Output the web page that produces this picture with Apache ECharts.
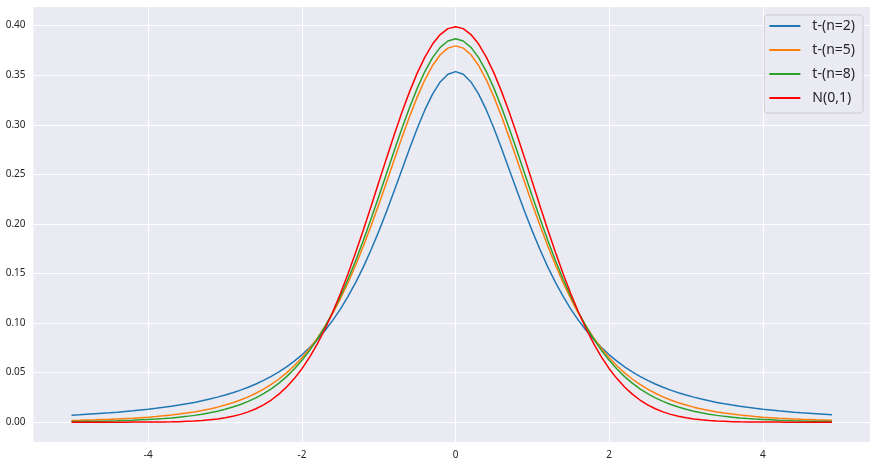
<!DOCTYPE html>
<html>
<head>
<meta charset="utf-8">
<script src="https://cdn.jsdelivr.net/npm/echarts@6/dist/echarts.min.js"></script>
<style>
  html, body { margin: 0; padding: 0; background: #fff; }
  #chart { width: 877px; height: 465px; }
</style>
</head>
<body>
<div id="chart"></div>
<script>
// x grid, -5 .. 4.9 step 0.1
const xs = [
  -5.0, -4.9, -4.8, -4.7, -4.6, -4.5, -4.4, -4.3, -4.2, -4.1,
  -4.0, -3.9, -3.8, -3.7, -3.6, -3.5, -3.4, -3.3, -3.2, -3.1,
  -3.0, -2.9, -2.8, -2.7, -2.6, -2.5, -2.4, -2.3, -2.2, -2.1,
  -2.0, -1.9, -1.8, -1.7, -1.6, -1.5, -1.4, -1.3, -1.2, -1.1,
  -1.0, -0.9, -0.8, -0.7, -0.6, -0.5, -0.4, -0.3, -0.2, -0.1,
  0.0, 0.1, 0.2, 0.3, 0.4, 0.5, 0.6, 0.7, 0.8, 0.9,
  1.0, 1.1, 1.2, 1.3, 1.4, 1.5, 1.6, 1.7, 1.8, 1.9,
  2.0, 2.1, 2.2, 2.3, 2.4, 2.5, 2.6, 2.7, 2.8, 2.9,
  3.0, 3.1, 3.2, 3.3, 3.4, 3.5, 3.6, 3.7, 3.8, 3.9,
  4.0, 4.1, 4.2, 4.3, 4.4, 4.5, 4.6, 4.7, 4.8, 4.9
];

const t2 = [
  0.0071, 0.0075, 0.0080, 0.0085, 0.0090, 0.0095, 0.0101, 0.0108, 0.0115, 0.0123,
  0.0131, 0.0140, 0.0150, 0.0161, 0.0173, 0.0186, 0.0200, 0.0216, 0.0234, 0.0253,
  0.0274, 0.0298, 0.0324, 0.0353, 0.0386, 0.0422, 0.0463, 0.0508, 0.0559, 0.0616,
  0.0680, 0.0753, 0.0834, 0.0925, 0.1027, 0.1141, 0.1269, 0.1411, 0.1567, 0.1739,
  0.1925, 0.2123, 0.2331, 0.2545, 0.2758, 0.2963, 0.3150, 0.3310, 0.3432, 0.3509,
  0.3536, 0.3509, 0.3432, 0.3310, 0.3150, 0.2963, 0.2758, 0.2545, 0.2331, 0.2123,
  0.1925, 0.1739, 0.1567, 0.1411, 0.1269, 0.1141, 0.1027, 0.0925, 0.0834, 0.0753,
  0.0680, 0.0616, 0.0559, 0.0508, 0.0463, 0.0422, 0.0386, 0.0353, 0.0324, 0.0298,
  0.0274, 0.0253, 0.0234, 0.0216, 0.0200, 0.0186, 0.0173, 0.0161, 0.0150, 0.0140,
  0.0131, 0.0123, 0.0115, 0.0108, 0.0101, 0.0095, 0.0090, 0.0085, 0.0080, 0.0075
];

const t5 = [
  0.0018, 0.0019, 0.0022, 0.0024, 0.0027, 0.0029, 0.0033, 0.0037, 0.0041, 0.0046,
  0.0051, 0.0057, 0.0065, 0.0073, 0.0082, 0.0092, 0.0104, 0.0118, 0.0134, 0.0152,
  0.0173, 0.0197, 0.0224, 0.0256, 0.0292, 0.0333, 0.0381, 0.0436, 0.0498, 0.0569,
  0.0651, 0.0743, 0.0848, 0.0966, 0.1098, 0.1245, 0.1407, 0.1585, 0.1777, 0.1981,
  0.2197, 0.2419, 0.2645, 0.2868, 0.3081, 0.3279, 0.3454, 0.3598, 0.3706, 0.3773,
  0.3796, 0.3773, 0.3706, 0.3598, 0.3454, 0.3279, 0.3081, 0.2868, 0.2645, 0.2419,
  0.2197, 0.1981, 0.1777, 0.1585, 0.1407, 0.1245, 0.1098, 0.0966, 0.0848, 0.0743,
  0.0651, 0.0569, 0.0498, 0.0436, 0.0381, 0.0333, 0.0292, 0.0256, 0.0224, 0.0197,
  0.0173, 0.0152, 0.0134, 0.0118, 0.0104, 0.0092, 0.0082, 0.0073, 0.0065, 0.0057,
  0.0051, 0.0046, 0.0041, 0.0037, 0.0033, 0.0029, 0.0027, 0.0024, 0.0022, 0.0019
];

const t8 = [
  0.0007, 0.0008, 0.0009, 0.0010, 0.0011, 0.0013, 0.0015, 0.0018, 0.0020, 0.0024,
  0.0028, 0.0032, 0.0037, 0.0043, 0.0051, 0.0059, 0.0069, 0.0081, 0.0095, 0.0111,
  0.0130, 0.0153, 0.0179, 0.0210, 0.0246, 0.0288, 0.0337, 0.0394, 0.0460, 0.0536,
  0.0624, 0.0724, 0.0837, 0.0965, 0.1109, 0.1268, 0.1442, 0.1632, 0.1836, 0.2052,
  0.2276, 0.2505, 0.2735, 0.2959, 0.3172, 0.3367, 0.3537, 0.3677, 0.3781, 0.3845,
  0.3867, 0.3845, 0.3781, 0.3677, 0.3537, 0.3367, 0.3172, 0.2959, 0.2735, 0.2505,
  0.2276, 0.2052, 0.1836, 0.1632, 0.1442, 0.1268, 0.1109, 0.0965, 0.0837, 0.0724,
  0.0624, 0.0536, 0.0460, 0.0394, 0.0337, 0.0288, 0.0246, 0.0210, 0.0179, 0.0153,
  0.0130, 0.0111, 0.0095, 0.0081, 0.0069, 0.0059, 0.0051, 0.0043, 0.0037, 0.0032,
  0.0028, 0.0024, 0.0020, 0.0018, 0.0015, 0.0013, 0.0011, 0.0010, 0.0009, 0.0008
];

const norm = [
  0.0000, 0.0000, 0.0000, 0.0000, 0.0000, 0.0000, 0.0000, 0.0000, 0.0001, 0.0001,
  0.0001, 0.0002, 0.0003, 0.0004, 0.0006, 0.0009, 0.0012, 0.0017, 0.0024, 0.0033,
  0.0044, 0.0060, 0.0079, 0.0104, 0.0136, 0.0175, 0.0224, 0.0283, 0.0355, 0.0440,
  0.0540, 0.0656, 0.0790, 0.0940, 0.1109, 0.1295, 0.1497, 0.1714, 0.1942, 0.2179,
  0.2420, 0.2661, 0.2897, 0.3123, 0.3332, 0.3521, 0.3683, 0.3814, 0.3910, 0.3970,
  0.3989, 0.3970, 0.3910, 0.3814, 0.3683, 0.3521, 0.3332, 0.3123, 0.2897, 0.2661,
  0.2420, 0.2179, 0.1942, 0.1714, 0.1497, 0.1295, 0.1109, 0.0940, 0.0790, 0.0656,
  0.0540, 0.0440, 0.0355, 0.0283, 0.0224, 0.0175, 0.0136, 0.0104, 0.0079, 0.0060,
  0.0044, 0.0033, 0.0024, 0.0017, 0.0012, 0.0009, 0.0006, 0.0004, 0.0003, 0.0002,
  0.0001, 0.0001, 0.0001, 0.0000, 0.0000, 0.0000, 0.0000, 0.0000, 0.0000, 0.0000
];

const names = ['t-(n=2)', 't-(n=5)', 't-(n=8)', 'N(0,1)'];
const colors = ['#1f77b4', '#ff7f0e', '#2ca02c', '#ff0000'];
const xTicks = [-4, -2, 0, 2, 4];
const yTicks = [0, 0.05, 0.10, 0.15, 0.20, 0.25, 0.30, 0.35, 0.40];

const font = "'Noto Sans', 'DejaVu Sans', sans-serif";

function pairs(ys) {
  return xs.map(function (x, i) { return [x, ys[i]]; });
}

const chart = echarts.init(document.getElementById('chart'));
chart.setOption({
  animation: false,
  textStyle: { fontFamily: font },
  grid: {
    left: 33.5, right: 7, top: 7, bottom: 23,
    show: true, backgroundColor: '#EAEAF2', borderWidth: 0
  },
  legend: {
    orient: 'vertical',
    right: 14, top: 15,
    padding: [3, 8, 7, 5],
    itemGap: 8,
    itemWidth: 31, itemHeight: 2,
    icon: 'rect',
    backgroundColor: 'rgba(234,234,242,0.85)',
    borderColor: '#cccccc', borderWidth: 1, borderRadius: 3,
    textStyle: { fontSize: 14, lineHeight: 16, color: '#262626', fontFamily: font, padding: [0, 0, 0, 7] },
    data: names
  },
  xAxis: {
    type: 'value',
    min: -5.495, max: 5.395,
    axisLine: { show: false },
    axisTick: { show: false, customValues: xTicks },
    axisLabel: { customValues: xTicks, fontSize: 10, color: '#262626', margin: 8 },
    splitLine: { show: true, lineStyle: { color: '#ffffff', width: 1 } }
  },
  yAxis: {
    type: 'value',
    min: -0.01995, max: 0.4188,
    axisLine: { show: false },
    axisTick: { show: false, customValues: yTicks },
    axisLabel: {
      customValues: yTicks, fontSize: 10, color: '#262626', margin: 8,
      formatter: function (v) { return v.toFixed(2); }
    },
    splitLine: { show: true, lineStyle: { color: '#ffffff', width: 1 } }
  },
  series: [t2, t5, t8, norm].map(function (ys, i) {
    return {
      name: names[i],
      type: 'line',
      data: pairs(ys),
      symbol: 'none',
      color: colors[i],
      lineStyle: { width: 1.5, color: colors[i] },
      z: 2 + i
    };
  })
});
</script>
</body>
</html>
